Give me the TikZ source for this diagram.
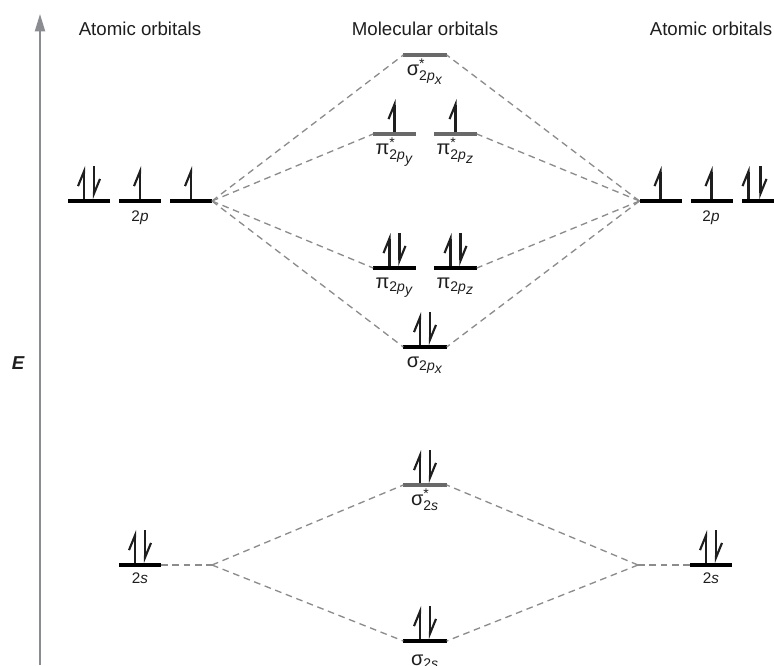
\documentclass[tikz,border=0pt]{standalone}
\usepackage{fontspec}
\setmainfont{Liberation Sans}
\usepackage{amsmath}
\usetikzlibrary{arrows.meta, positioning, calc}
\definecolor{dashgray}{RGB}{140,140,140}
\definecolor{antigray}{RGB}{105,105,105}
\definecolor{axisgray}{RGB}{138,140,146}
\definecolor{inkdark}{RGB}{30,30,30}
% one electron pointing up / down on a level
\newcommand{\upe}[2][0]{\draw[elec] ($(#2.north)+(#1,0)$) -- ++(0,-33);}
\newcommand{\dne}[2][0]{\draw[elec] ($(#2.north)+(#1,-33)$) -- ++(0,33);}

\begin{document}
\begin{tikzpicture}[
    x=0.75pt, y=-0.75pt,
    lvl/.style={fill=black, minimum width=31.5pt, minimum height=3pt, inner sep=0pt, outer sep=0pt},
    molvl/.style={lvl, minimum width=32.5pt},
    antilvl/.style={molvl, fill=antigray},
    elec/.style={line width=1.6pt, inkdark, -{Straight Barb[harpoon, length=11pt, width=9pt]}},
    corr/.style={dashgray, line width=1pt, dash pattern=on 5pt off 3.5pt},
    axis/.style={axisgray, line width=1.5pt, -{Triangle[length=13pt, width=7.5pt]}},
    head/.style={font=\fontsize{14}{16}\selectfont, text=inkdark, anchor=base},
    lab/.style={font=\fontsize{15}{17}\selectfont, text=inkdark, anchor=base},
    aolab/.style={font=\fontsize{11.5}{13}\selectfont, text=inkdark, anchor=base}
]
    \useasboundingbox (0,0) rectangle (774,665);
    \clip (0,0) rectangle (774,665);

    % energy axis
    \coordinate (ebot) at (40,665);
    \coordinate (etop) at (40,14);
    \draw[axis] (ebot) -- (etop);
    \node[font=\fontsize{14}{16}\selectfont\bfseries\itshape, text=inkdark] (E) at (18,363) {E};

    \node[head] (aoL) at (140,35) {Atomic orbitals};
    \node[head] (mo) at (425,35) {Molecular orbitals};
    \node[head] (aoR) at (711,35) {Atomic orbitals};

    % atomic levels
    \node[lvl] (pL1) at (89,201) {};
    \node[lvl, right=6.75pt of pL1] (pL2) {};
    \node[lvl, right=6.75pt of pL2] (pL3) {};
    \node[lvl] (pR1) at (660.5,201) {};
    \node[lvl, right=6.75pt of pR1] (pR2) {};
    \node[lvl, right=6.75pt of pR2] (pR3) {};
    \node[lvl] (sL) at (140,565) {};
    \node[lvl] (sR) at (711,565) {};
    \node[aolab] (pLlab) at (140,221) {2\textit{p}};
    \node[aolab] (pRlab) at (711,221) {2\textit{p}};
    \node[aolab] (sLlab) at (140,583) {2\textit{s}};
    \node[aolab] (sRlab) at (711,583) {2\textit{s}};

    % molecular levels
    \node[antilvl] (sgxs) at (425,55) {};
    \node[antilvl, minimum width=32pt] (pys) at (394.5,134) {};
    \node[antilvl, minimum width=32pt] (pzs) at (455.5,134) {};
    \node[molvl, minimum width=32pt] (py) at (394.5,268) {};
    \node[molvl, minimum width=32pt] (pz) at (455.5,268) {};
    \node[molvl] (sgx) at (425,347) {};
    \node[antilvl] (sgss) at (425,485) {};
    \node[molvl] (sgs) at (425,641) {};

    \node[lab] at ($(sgxs)+(0,20)$) {$\text{σ}^{\text{*}}_{\text{2\textit{p}}_{\scriptstyle\textit{x}}}$};
    \node[lab] at ($(pys)+(0,20)$) {$\text{π}^{\text{*}}_{\text{2\textit{p}}_{\scriptstyle\textit{y}}}$};
    \node[lab] at ($(pzs)+(0,20)$) {$\text{π}^{\text{*}}_{\text{2\textit{p}}_{\scriptstyle\textit{z}}}$};
    \node[lab] at ($(py)+(0,20)$) {$\text{π}_{\text{2\textit{p}}_{\scriptstyle\textit{y}}}$};
    \node[lab] at ($(pz)+(0,20)$) {$\text{π}_{\text{2\textit{p}}_{\scriptstyle\textit{z}}}$};
    \node[lab] at ($(sgx)+(0,20)$) {$\text{σ}_{\text{2\textit{p}}_{\scriptstyle\textit{x}}}$};
    \node[lab] at ($(sgss)+(0,20)$) {$\text{σ}^{\text{*}}_{\text{2\textit{s}}}$};
    \node[lab] at ($(sgs)+(0,24)$) {$\text{σ}_{\text{2\textit{s}}}$};

    % correlation lines
    \foreach \m in {sgxs, pys, py, sgx}
        \draw[corr] (pL3.east) -- (\m.west);
    \foreach \m in {sgxs, pzs, pz, sgx}
        \draw[corr] (pR1.west) -- (\m.east);
    \coordinate (cL) at (212,565);
    \coordinate (cR) at (638,565);
    \draw[corr] (sL.east) -- (cL);
    \draw[corr] (sR.west) -- (cR);
    \draw[corr] (cL) -- (sgss.west);
    \draw[corr] (cL) -- (sgs.west);
    \draw[corr] (cR) -- (sgss.east);
    \draw[corr] (cR) -- (sgs.east);

    % electrons
    \upe[-5]{pL1} \dne[5]{pL1}
    \upe{pL2}
    \upe{pL3}
    \upe{pR1}
    \upe{pR2}
    \upe[-14]{pR3} \dne[-2]{pR3}
    \upe[-5]{sL} \dne[5]{sL}
    \upe[-5]{sR} \dne[5]{sR}
    \upe{pys}
    \upe{pzs}
    \upe[-5]{py} \dne[5]{py}
    \upe[-5]{pz} \dne[5]{pz}
    \upe[-5]{sgx} \dne[5]{sgx}
    \upe[-5]{sgss} \dne[5]{sgss}
    \upe[-5]{sgs} \dne[5]{sgs}
\end{tikzpicture}
\end{document}
